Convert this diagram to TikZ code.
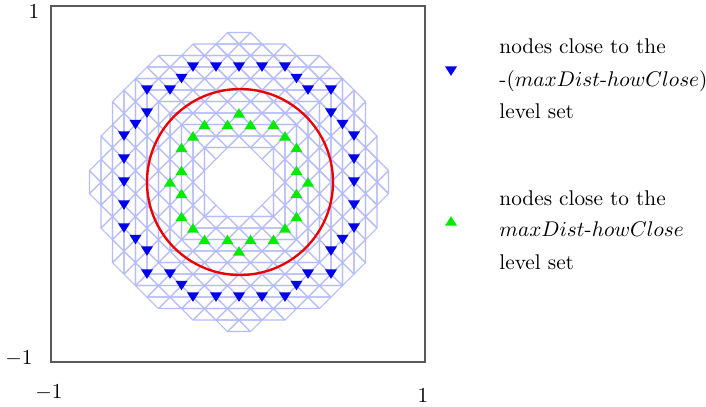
\documentclass[tikz,border=0pt]{standalone}
\usepackage{tikz}
\definecolor{meshc}{RGB}{182,188,248}
\definecolor{markb}{RGB}{0,0,235}
\definecolor{markg}{RGB}{0,235,0}
\definecolor{curvr}{RGB}{235,0,0}
\definecolor{framec}{RGB}{90,90,90}
\tikzset{
  meshline/.style={draw=meshc, line width=0.5pt, line join=round},
  framebox/.style={draw=framec, line width=0.7pt},
  levelcurve/.style={draw=curvr, line width=1.1pt},
  ticklab/.style={inner sep=0pt},
  legtext/.style={anchor=base west, inner sep=0pt},
  downmark/.pic={\fill[markb] (-6,-4.6) -- (6,-4.6) -- (0,4.8) -- cycle;},
  upmark/.pic={\fill[markg] (-6,4.6) -- (6,4.6) -- (0,-4.8) -- cycle;},
}
% #1..#6: vertices; #7: 1 = horizontal-based (top/bottom sector), 0 = vertical-based (left/right sector)
\newcommand{\meshtri}[7]{%
  \pgfmathsetmacro\mcx{abs(((#1)+(#3)+(#5))/3)}%
  \pgfmathsetmacro\mcy{abs(((#2)+(#4)+(#6))/3)}%
  \pgfmathtruncatemacro\insector{ifthenelse(#7==1, \mcx<\mcy, \mcy<\mcx)}%
  \ifnum\insector=1
  \pgfmathtruncatemacro\okout{and(and((#1)*(#1)+(#2)*(#2)<171.6,(#3)*(#3)+(#4)*(#4)<171.6),(#5)*(#5)+(#6)*(#6)<171.6)}%
  \pgfmathtruncatemacro\inhole{and(and(\mcx<3,\mcy<3),\mcx+\mcy<4)}%
  \ifnum\okout=1 \ifnum\inhole=0
    \draw[meshline] (#1,#2) -- (#3,#4) -- (#5,#6) -- cycle;
  \fi\fi
  \fi
}
\begin{document}
\begin{tikzpicture}[x=0.47pt, y=-0.47pt]
\useasboundingbox (0,0) rectangle (706,406);
% mesh
\begin{scope}[shift={(239,182)}, x=5.405pt, y=-5.405pt]
\foreach \a in {-13,...,12}{
  \foreach \b in {-13,...,13}{
    \pgfmathtruncatemacro\ap{\a+1}%
    \pgfmathtruncatemacro\bm{\b-1}%
    \pgfmathtruncatemacro\bp{\b+1}%
    \pgfmathtruncatemacro\cellpar{mod(abs(\a+\b),2)}%
    \ifnum\cellpar=1
      \meshtri{\bm}{\a}{\bp}{\a}{\b}{\ap}{1}%
      \meshtri{\a}{\bm}{\a}{\bp}{\ap}{\b}{0}%
    \else
      \meshtri{\bm}{\ap}{\bp}{\ap}{\b}{\a}{1}%
      \meshtri{\ap}{\bm}{\ap}{\bp}{\a}{\b}{0}%
    \fi
  }
}
\end{scope}
% frame
\draw[framebox] (51,6) rectangle (425,362);
% level set curve
\node[circle, levelcurve, minimum size=186*0.47pt, inner sep=0pt] (curve) at (240,182) {};
% blue markers
\foreach \i/\j in {-4/-10,-2/-10,0/-10,2/-10,4/-10,
                   -5/-9,5/-9,-8/-8,-6/-8,6/-8,8/-8,-8/-6,8/-6,-9/-5,9/-5,
                   -10/-4,10/-4,-10/-2,10/-2,-10/0,10/0,-10/2,10/2,-10/4,10/4,
                   -9/5,9/5,-8/6,8/6,-8/8,-6/8,6/8,8/8,-5/9,5/9,
                   -4/10,-2/10,0/10,2/10,4/10}
  \pic at ({239+11.5*\i},{182+11.5*\j}) {downmark};
% green markers
\foreach \i/\j in {0/-6,-3/-5,-1/-5,1/-5,3/-5,-4/-4,4/-4,-5/-3,5/-3,-5/-1,5/-1,
                   -6/0,6/0,-5/1,5/1,-5/3,5/3,-4/4,4/4,-3/5,-1/5,1/5,3/5,0/6}
  \pic at ({239+11.5*\i},{182+11.5*\j}) {upmark};
% tick labels
\node[ticklab] (ytop) at (34,12) {$1$};
\node[ticklab] (ybot) at (19,359) {$-1$};
\node[ticklab] (xleft) at (49,393) {$-1$};
\node[ticklab] (xright) at (423,396) {$1$};
% legend
\pic at (451,71) {downmark};
\pic at (451,221) {upmark};
\node[legtext] (l1a) at (499,53.3) {nodes close to the};
\node[legtext] (l1b) at (499,86) {-($maxDist$-$howClose$)};
\node[legtext] (l1c) at (499,118.3) {level set};
\node[legtext] (l2a) at (499,205) {nodes close to the};
\node[legtext] (l2b) at (499,236.7) {$maxDist$-$howClose$};
\node[legtext] (l2c) at (499,269.3) {level set};
\end{tikzpicture}
\end{document}
